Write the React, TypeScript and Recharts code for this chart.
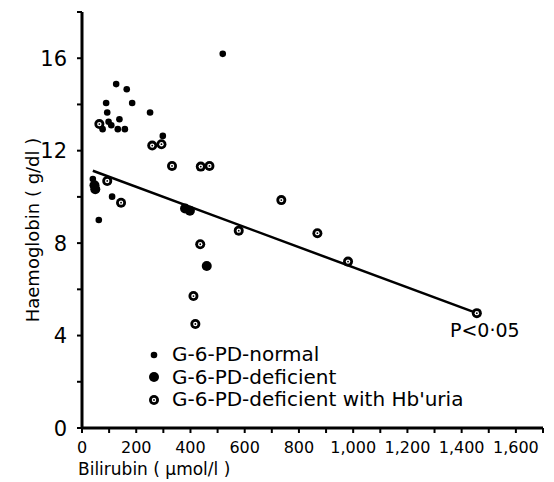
import React from 'react';
import { ScatterChart, Scatter, XAxis, YAxis, Label, ReferenceDot } from 'recharts';

// values
const normalX = [126, 165, 89, 185, 251, 93, 76, 98, 108, 138, 132, 158, 298, 519, 40, 111, 62];
const normalY = [14.88, 14.66, 14.06, 14.06, 13.65, 13.65, 12.93, 13.25, 13.1, 13.36, 12.93, 12.93, 12.64, 16.19, 10.77, 10.01, 9.0];

const deficientX = [46, 49, 380, 398, 460];
const deficientY = [10.5, 10.33, 9.5, 9.4, 7.01];

const hburiaX = [64, 259, 293, 332, 438, 470, 93, 144, 578, 735, 868, 981, 436, 411, 418, 1456];
const hburiaY = [13.15, 12.22, 12.28, 11.34, 11.31, 11.34, 10.69, 9.75, 8.54, 9.86, 8.43, 7.2, 7.95, 5.71, 4.5, 4.97];

// regression line end points
const fitX = [40, 1456];
const fitY = [11.13, 4.97];

const xTicks = [0, 100, 200, 300, 400, 500, 600, 700, 800, 900, 1000, 1100, 1200, 1300, 1400, 1500, 1600, 1700];
const xLabelled = [0, 200, 400, 600, 800, 1000, 1200, 1400, 1600];
const yTicks = [0, 2, 4, 6, 8, 10, 12, 14, 16, 18];
const yLabelled = [0, 4, 8, 12, 16];

const legendItems = ['G-6-PD-normal', 'G-6-PD-deficient', "G-6-PD-deficient with Hb'uria"];

const zip = (xs: number[], ys: number[]) => xs.map((x, i) => ({ x, y: ys[i] }));

const FONT = '"DejaVu Sans", sans-serif';
const INK = '#000';

const NormalDot = ({ cx, cy }: any) => <circle cx={cx} cy={cy} r={3.3} fill={INK} />;
const DeficientDot = ({ cx, cy }: any) => <circle cx={cx} cy={cy} r={5} fill={INK} />;
const HburiaDot = ({ cx, cy }: any) => (
  <g>
    <circle cx={cx} cy={cy} r={5} fill={INK} />
    <circle cx={cx} cy={cy} r={2.2} fill="#fff" />
    <circle cx={cx} cy={cy} r={0.9} fill={INK} />
  </g>
);

const fmt = (v: number) => v.toLocaleString('en-US');

const XTick = ({ x, y, payload }: any) => {
  if (!xLabelled.includes(payload.value)) return <g />;
  return (
    <text x={x} y={y} dy="0.71em" textAnchor="middle" fontFamily={FONT} fontSize={16} style={{ fill: INK }}>
      {fmt(payload.value)}
    </text>
  );
};

const YTick = ({ x, y, payload }: any) => {
  if (!yLabelled.includes(payload.value)) return <g />;
  return (
    <text x={x} y={y} dy="0.36em" textAnchor="end" fontFamily={FONT} fontSize={21} style={{ fill: INK }}>
      {payload.value}
    </text>
  );
};

const Marker = ({ i }: { i: number }) => (
  <svg width={20} height={20} style={{ verticalAlign: 'middle' }}>
    {i === 0 && <NormalDot cx={8} cy={10} />}
    {i === 1 && <DeficientDot cx={8} cy={10} />}
    {i === 2 && <HburiaDot cx={8} cy={10} />}
  </svg>
);

export default function App() {
  return (
    <div style={{ position: 'relative', width: 546, height: 474, background: '#fff' }}>
      <ScatterChart width={546} height={474} margin={{ top: 4, right: 11, left: 0, bottom: 14 }}>
        <XAxis
          type="number"
          dataKey="x"
          domain={[0, 1700]}
          ticks={xTicks}
          interval={0}
          height={40}
          axisLine={{ stroke: INK, strokeWidth: 3 }}
          tickLine={{ stroke: INK, strokeWidth: 2 }}
          tickSize={5}
          tickMargin={9}
          tick={<XTick />}
        >
          <Label
            content={({ viewBox }: any) => (
              <text x={viewBox.x - 4} y={viewBox.y + 47} fontFamily={FONT} fontSize={17} style={{ fill: INK }}>
                Bilirubin ( µmol/l )
              </text>
            )}
          />
        </XAxis>
        <YAxis
          type="number"
          dataKey="y"
          domain={[0, 18]}
          ticks={yTicks}
          interval={0}
          width={74}
          axisLine={{ stroke: INK, strokeWidth: 3 }}
          tickLine={{ stroke: INK, strokeWidth: 2 }}
          tickSize={5}
          tickMargin={10}
          tick={<YTick />}
        >
          <Label
            content={({ viewBox }: any) => {
              const cx = 24;
              const cy = viewBox.y + 218;
              return (
                <text
                  x={cx}
                  y={cy}
                  transform={`rotate(-90 ${cx} ${cy})`}
                  textAnchor="middle"
                  dominantBaseline="central"
                  fontFamily={FONT}
                  fontSize={18}
                  style={{ fill: INK }}
                >
                  Haemoglobin ( g/dl )
                </text>
              );
            }}
          />
        </YAxis>
        <Scatter
          data={zip(fitX, fitY)}
          line={{ stroke: INK, strokeWidth: 2.5 }}
          shape={() => <g />}
          isAnimationActive={false}
        />
        <Scatter data={zip(normalX, normalY)} shape={<NormalDot />} isAnimationActive={false} />
        <Scatter data={zip(deficientX, deficientY)} shape={<DeficientDot />} isAnimationActive={false} />
        <Scatter data={zip(hburiaX, hburiaY)} shape={<HburiaDot />} isAnimationActive={false} />
        <ReferenceDot
          x={fitX[1]}
          y={fitY[1]}
          r={0}
          label={{
            content: ({ viewBox }: any) => (
              <text x={viewBox.x + 8} y={viewBox.y + 24} textAnchor="middle" fontFamily={FONT} fontSize={19} style={{ fill: INK }}>
                P&lt;0·05
              </text>
            ),
          }}
        />
      </ScatterChart>
      <div style={{ position: 'absolute', left: 138, top: 334, fontFamily: FONT, fontSize: 20, color: INK }}>
        {legendItems.map((t, i) => (
          <div key={t} style={{ height: 22.5, lineHeight: '22.5px', whiteSpace: 'nowrap' }}>
            <Marker i={i} />
            <span style={{ marginLeft: 6, verticalAlign: 'middle' }}>{t}</span>
          </div>
        ))}
      </div>
    </div>
  );
}
